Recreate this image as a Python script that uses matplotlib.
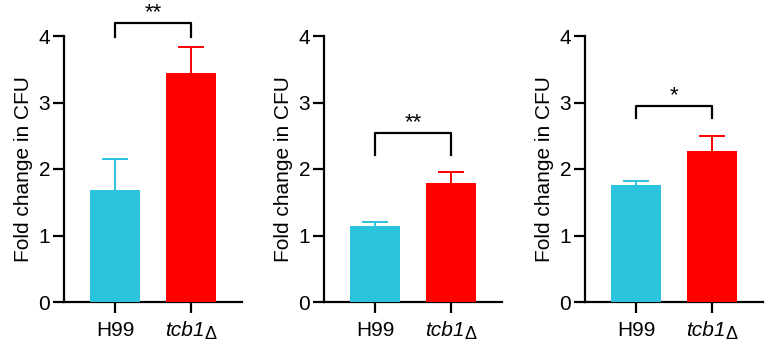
import matplotlib
matplotlib.use("Agg")
import matplotlib.pyplot as plt
import matplotlib.transforms as mtransforms

plt.rcParams['font.family'] = ['Liberation Sans', 'DejaVu Sans']

groups = ["H99", "tcb1"]
h99_mean = [1.69, 1.15, 1.755]
h99_err = [0.46, 0.05, 0.06]
tcb1_mean = [3.45, 1.79, 2.275]
tcb1_err = [0.39, 0.16, 0.225]
bracket_top = [4.19, 2.54, 2.95]
bracket_leg = [3.99, 2.21, 2.77]
stars = ["**", "**", "*"]

blue = "#2BC4DC"
red = "#FF0000"

fig = plt.figure(figsize=(7.71, 3.47), dpi=100)
W, H = 771.0, 347.0
axis_left = [64, 324, 585]

for i in range(3):
    ax = fig.add_axes([axis_left[i] / W, 45 / H, 178 / W, 266 / H])
    x = [0, 1]
    vals = [h99_mean[i], tcb1_mean[i]]
    errs = [h99_err[i], tcb1_err[i]]
    cols = [blue, red]
    for xi, v, e, c in zip(x, vals, errs, cols):
        ax.bar(xi, v, width=0.66, color=c, linewidth=0, zorder=3)
        # upper error bar only
        ax.vlines(xi, v, v + e, color=c, lw=1.4, zorder=2)
        ax.hlines(v + e, xi - 0.165, xi + 0.165, color=c, lw=1.4, zorder=2)

    ax.set_xlim(-0.67, 1.67)
    ax.set_ylim(0, 4)
    ax.set_yticks([0, 1, 2, 3, 4])
    ax.set_xticks(x)
    ax.set_xticklabels(["H99", ""])
    for s in ["top", "right"]:
        ax.spines[s].set_visible(False)
    for s in ["left", "bottom"]:
        ax.spines[s].set_linewidth(1.6)
    ax.tick_params(axis="both", width=1.6, length=8, labelsize=15, pad=2)
    ax.tick_params(axis="x", pad=6)
    ax.set_ylabel("Fold change in CFU", fontsize=15, labelpad=4)

    # italic gene name with the delta sign
    trans = mtransforms.blended_transform_factory(ax.transData, ax.transAxes)
    ax.annotate("tcb1", xy=(1, 0), xycoords=trans, xytext=(9.5, -14),
                textcoords="offset points", ha="right", va="top",
                fontsize=15, style="italic", annotation_clip=False)
    ax.annotate("Δ", xy=(1, 0), xycoords=trans, xytext=(10, -17.5),
                textcoords="offset points", ha="left", va="top",
                fontsize=13, annotation_clip=False)

    # significance bracket
    ax.plot([0, 0, 1, 1],
            [bracket_leg[i], bracket_top[i], bracket_top[i], bracket_leg[i]],
            color="black", lw=1.6, clip_on=False)
    ax.annotate(stars[i], xy=(0.5, bracket_top[i]), xytext=(0, 0),
                textcoords="offset points", ha="center", va="bottom",
                fontsize=16, annotation_clip=False)

fig.savefig("out.png", dpi=100)
